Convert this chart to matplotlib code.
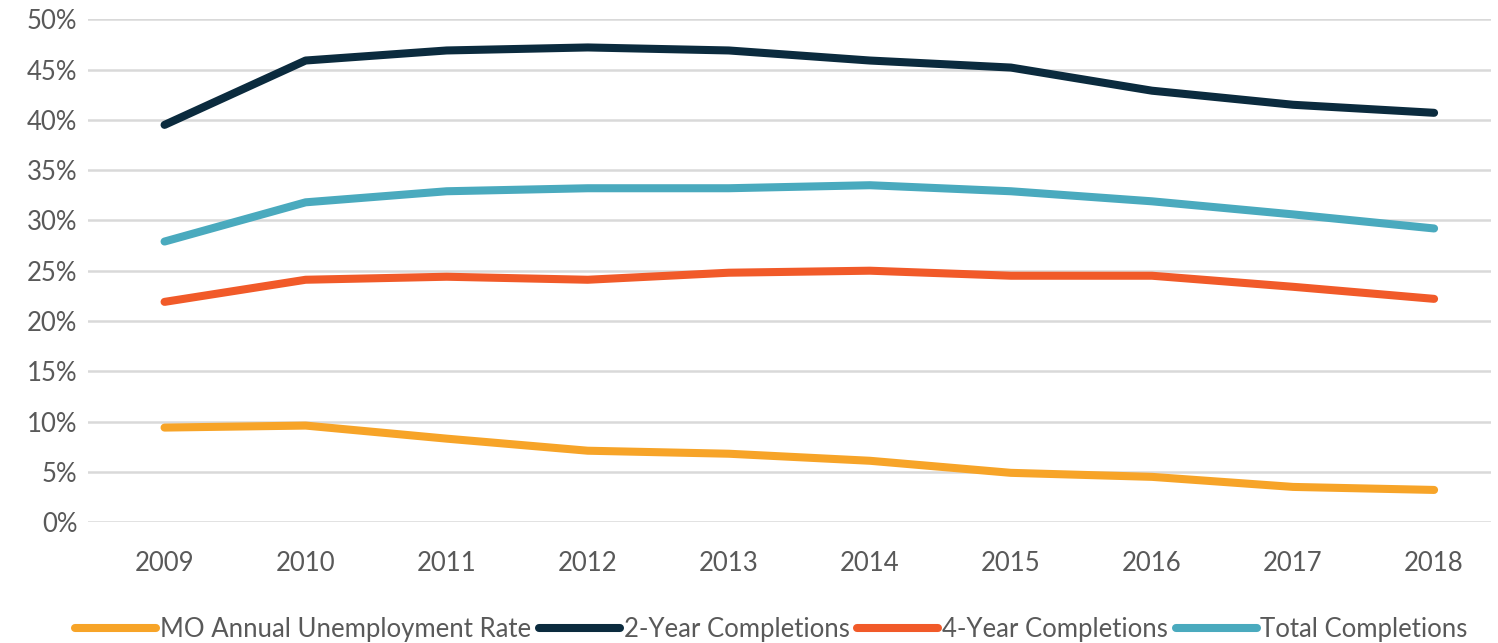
import matplotlib
matplotlib.use("Agg")
import matplotlib.pyplot as plt
from matplotlib.ticker import FuncFormatter

years = [2009, 2010, 2011, 2012, 2013, 2014, 2015, 2016, 2017, 2018]
unemployment = [9.4, 9.6, 8.3, 7.1, 6.8, 6.1, 4.9, 4.5, 3.5, 3.2]
two_year = [39.5, 45.9, 46.9, 47.2, 46.9, 45.9, 45.2, 42.9, 41.5, 40.7]
four_year = [21.9, 24.1, 24.4, 24.1, 24.8, 25.0, 24.5, 24.5, 23.4, 22.2]
total = [27.9, 31.8, 32.9, 33.2, 33.2, 33.5, 32.9, 31.9, 30.6, 29.2]
labels = ["MO Annual Unemployment Rate", "2-Year Completions", "4-Year Completions", "Total Completions"]
colors = ["#F7A428", "#0B2B3E", "#F15A29", "#4AAABE"]

plt.rcParams['font.family'] = ['Lato', 'DejaVu Sans']
fig = plt.figure(figsize=(14.98, 6.43), dpi=100)
ax = fig.add_axes([0.059, 0.188, 0.936, 0.782])

for series, lab, c in zip([unemployment, two_year, four_year, total], labels, colors):
    ax.plot(years, series, color=c, lw=5.8, label=lab, solid_capstyle='round', solid_joinstyle='round', zorder=3)

ax.set_ylim(0, 50)
ax.set_yticks(range(0, 51, 5))
ax.yaxis.set_major_formatter(FuncFormatter(lambda v, p: f"{int(v)}%"))
ax.set_xlim(2008.46, 2018.4)
ax.set_xticks(years)
ax.grid(axis='y', color='#D9D9D9', lw=1.8, zorder=0)
for s in ax.spines.values():
    s.set_visible(False)
ax.tick_params(axis='both', length=0, labelsize=18.5, labelcolor='#595959')
ax.tick_params(axis='x', pad=21)
ax.tick_params(axis='y', pad=8)

leg = fig.legend(loc='lower center', bbox_to_anchor=(0.515, -0.034), ncol=4, frameon=False,
                 fontsize=18.5, handlelength=3.15, handletextpad=0.15, columnspacing=0.3)
for t in leg.get_texts():
    t.set_color('#595959')

fig.savefig("out.png", dpi=100)
